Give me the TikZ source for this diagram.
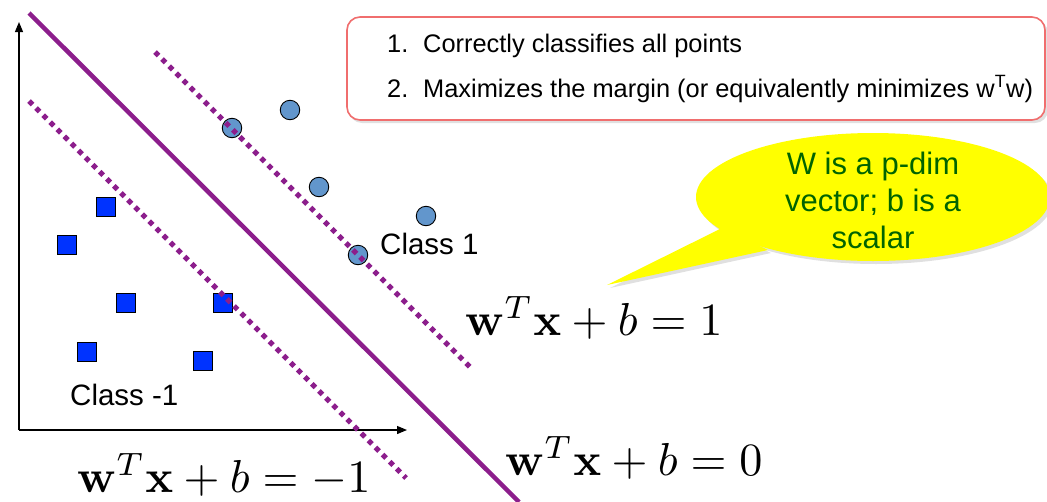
\documentclass[tikz,border=0pt]{standalone}
\usepackage[no-math]{fontspec}
\usepackage{graphicx}
\setmainfont{Liberation Sans}
\usetikzlibrary{arrows.meta}
\definecolor{svmpurple}{RGB}{140,30,140}
\definecolor{ptcircle}{RGB}{98,150,204}
\definecolor{ptsquare}{RGB}{0,51,255}
\definecolor{boxred}{RGB}{240,110,110}
\definecolor{calloutyellow}{RGB}{255,255,0}
\definecolor{calloutgreen}{RGB}{0,100,0}
\newcommand{\bigeq}[1]{\scalebox{4.62}{$#1$}}
\tikzset{
  circpt/.style={circle, draw=black, line width=0.9pt, fill=ptcircle, minimum size=19.5pt, inner sep=0pt},
  sqpt/.style={rectangle, draw=black, line width=0.9pt, fill=ptsquare, minimum size=19.5pt, inner sep=0pt},
  hyper/.style={svmpurple, line width=4.5pt},
  marginline/.style={svmpurple, line width=5.2pt, dash pattern=on 5pt off 5pt},
  axis/.style={black, line width=1.2pt, -{Triangle[length=10pt,width=8pt]}},
  classlbl/.style={font=\fontsize{29.5}{34}\selectfont, inner sep=0pt, anchor=base west},
  eqlbl/.style={font=\normalsize, inner sep=0pt, anchor=base west},
  boxtxt/.style={font=\fontsize{25.4}{30}\selectfont, inner sep=0pt, anchor=base west},
}
\begin{document}
\begin{tikzpicture}[x=1pt,y=-1pt]
\useasboundingbox (0,0) rectangle (1047,501);

% criteria box
\fill[black!12, rounded corners=13pt] (349,20) rectangle (1048,123);
\draw[boxred, line width=1.6pt, fill=white, rounded corners=13pt] (347,17) rectangle (1045,120);
\node[boxtxt] (t1) at (387,52) {\makebox[36pt][l]{1.}Correctly classifies all points};
\node[boxtxt] (t2) at (387,97) {\makebox[36pt][l]{2.}Maximizes the margin (or equivalently minimizes w\textsuperscript{T}w)};

% axes
\coordinate (origin) at (19,430);
\coordinate (ytip) at (19,22);
\coordinate (xtip) at (407,430);
\draw[axis] (origin) -- (ytip);
\draw[axis] (origin) -- (xtip);

% class 1 points
\node[circpt] (c1) at (232,128) {};
\node[circpt] (c2) at (290,110) {};
\node[circpt] (c3) at (319,187) {};
\node[circpt] (c4) at (426,216) {};
\node[circpt] (c5) at (358,255) {};

% class -1 points
\node[sqpt] (s1) at (106,207) {};
\node[sqpt] (s2) at (67,245) {};
\node[sqpt] (s3) at (126,303) {};
\node[sqpt] (s4) at (223,303) {};
\node[sqpt] (s5) at (87,352) {};
\node[sqpt] (s6) at (203,361) {};

% hyperplanes
\coordinate (h0a) at (29,13);
\coordinate (h0b) at (519,502);
\coordinate (hpa) at (155,52);
\coordinate (hpb) at (472,369);
\coordinate (hma) at (29,101);
\coordinate (hmb) at (406,478);
\draw[hyper] (h0a) -- (h0b);
\draw[marginline] (hpa) -- (hpb);
\draw[marginline] (hma) -- (hmb);

% labels
\node[classlbl] (lc1) at (380,254) {Class 1};
\node[classlbl] (lcm1) at (70,405) {Class -1};
\node[eqlbl] (eq1) at (465,335) {\bigeq{\mathbf{w}^T\mathbf{x}+b=1}};
\node[eqlbl] (eq0) at (505,475) {\bigeq{\mathbf{w}^T\mathbf{x}+b=0}};
\node[eqlbl] (eqm1) at (77,492) {\bigeq{\mathbf{w}^T\mathbf{x}+b=-1}};

% callout
\fill[black!12] (610,288) -- (725,231) -- (771,253) -- cycle;
\fill[black!12] (876,200) ellipse [x radius=177, y radius=64];
\fill[calloutyellow] (607,285) -- (722,228) -- (768,250) -- cycle;
\fill[calloutyellow] (873,197) ellipse [x radius=177, y radius=64];
\node[align=center, text=calloutgreen, font=\fontsize{31}{37}\selectfont, inner sep=0pt] (callout) at (873,200) {W is a p-dim\\vector; b is a\\scalar};
\end{tikzpicture}
\end{document}
